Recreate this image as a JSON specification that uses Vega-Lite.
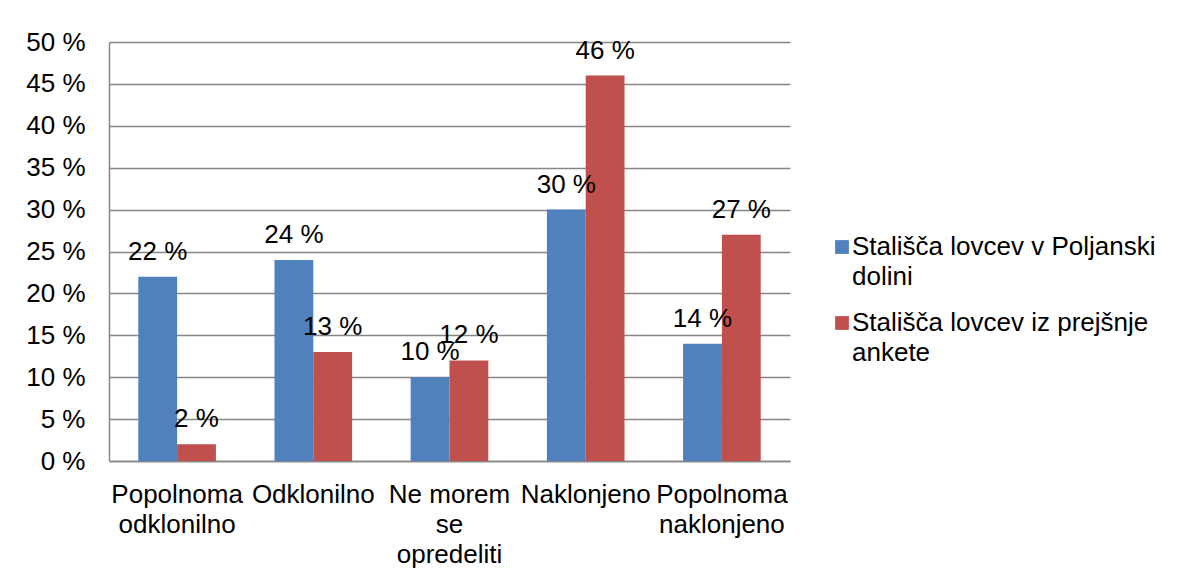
{
  "$schema": "https://vega.github.io/schema/vega-lite/v6.json",
  "width": 681,
  "height": 419,
  "autosize": {"type": "none"},
  "padding": {"left": 109, "top": 42, "right": 390, "bottom": 116},
  "config": {
    "view": {"stroke": null},
    "font": "Liberation Sans",
    "style": {"guide-label": {"lineHeight": 30}}
  },
  "data": {
    "values": [
      {"cat": "Popolnoma odklonilno", "series": "Stališča lovcev v Poljanski dolini", "value": 22},
      {"cat": "Popolnoma odklonilno", "series": "Stališča lovcev iz prejšnje ankete", "value": 2},
      {"cat": "Odklonilno", "series": "Stališča lovcev v Poljanski dolini", "value": 24},
      {"cat": "Odklonilno", "series": "Stališča lovcev iz prejšnje ankete", "value": 13},
      {"cat": "Ne morem se opredeliti", "series": "Stališča lovcev v Poljanski dolini", "value": 10},
      {"cat": "Ne morem se opredeliti", "series": "Stališča lovcev iz prejšnje ankete", "value": 12},
      {"cat": "Naklonjeno", "series": "Stališča lovcev v Poljanski dolini", "value": 30},
      {"cat": "Naklonjeno", "series": "Stališča lovcev iz prejšnje ankete", "value": 46},
      {"cat": "Popolnoma naklonjeno", "series": "Stališča lovcev v Poljanski dolini", "value": 14},
      {"cat": "Popolnoma naklonjeno", "series": "Stališča lovcev iz prejšnje ankete", "value": 27}
    ]
  },
  "encoding": {
    "x": {
      "field": "cat",
      "type": "nominal",
      "sort": ["Popolnoma odklonilno", "Odklonilno", "Ne morem se opredeliti", "Naklonjeno", "Popolnoma naklonjeno"],
      "scale": {"paddingInner": 0.43, "paddingOuter": 0.215},
      "axis": {
        "title": null,
        "labelAngle": 0,
        "ticks": false,
        "domainColor": "#868686",
        "domainWidth": 1.5,
        "labelFontSize": 26,
        "labelColor": "#000000",
        "labelPadding": 20,
        "labelLineHeight": 30,
        "labelLimit": 0,
        "labelExpr": "datum.label == 'Popolnoma odklonilno' ? ['Popolnoma', 'odklonilno'] : datum.label == 'Ne morem se opredeliti' ? ['Ne morem', 'se', 'opredeliti'] : datum.label == 'Popolnoma naklonjeno' ? ['Popolnoma', 'naklonjeno'] : datum.label"
      }
    },
    "xOffset": {
      "field": "series",
      "sort": ["Stališča lovcev v Poljanski dolini", "Stališča lovcev iz prejšnje ankete"]
    },
    "y": {
      "field": "value",
      "type": "quantitative",
      "scale": {"domain": [0, 50]},
      "axis": {
        "title": null,
        "values": [0, 5, 10, 15, 20, 25, 30, 35, 40, 45, 50],
        "ticks": false,
        "domainColor": "#868686",
        "domainWidth": 1.5,
        "grid": true,
        "gridColor": "#868686",
        "gridWidth": 1.5,
        "labelFontSize": 26,
        "labelColor": "#000000",
        "labelPadding": 24,
        "labelExpr": "datum.value + ' %'"
      }
    }
  },
  "layer": [
    {
      "mark": {"type": "bar"},
      "encoding": {
        "color": {
          "field": "series",
          "type": "nominal",
          "sort": ["Stališča lovcev v Poljanski dolini", "Stališča lovcev iz prejšnje ankete"],
          "scale": {"range": ["#4F81BD", "#C0504D"]},
          "legend": {
            "title": null,
            "orient": "none",
            "legendX": 720,
            "legendY": 192,
            "padding": 0,
            "symbolType": "square",
            "symbolSize": 190,
            "symbolStrokeWidth": 0,
            "labelFontSize": 26,
            "labelColor": "#000000",
            "labelLimit": 500,
            "labelOffset": -3,
            "rowPadding": 20,
            "labelExpr": "datum.label == 'Stališča lovcev v Poljanski dolini' ? ['Stališča lovcev v Poljanski', 'dolini'] : ['Stališča lovcev iz prejšnje', 'ankete']"
          }
        }
      }
    },
    {
      "transform": [{"calculate": "datum.value + ' %'", "as": "label"}],
      "mark": {"type": "text", "dy": -25, "fontSize": 26, "color": "#000000", "baseline": "middle", "align": "center"},
      "encoding": {"text": {"field": "label"}}
    }
  ]
}
